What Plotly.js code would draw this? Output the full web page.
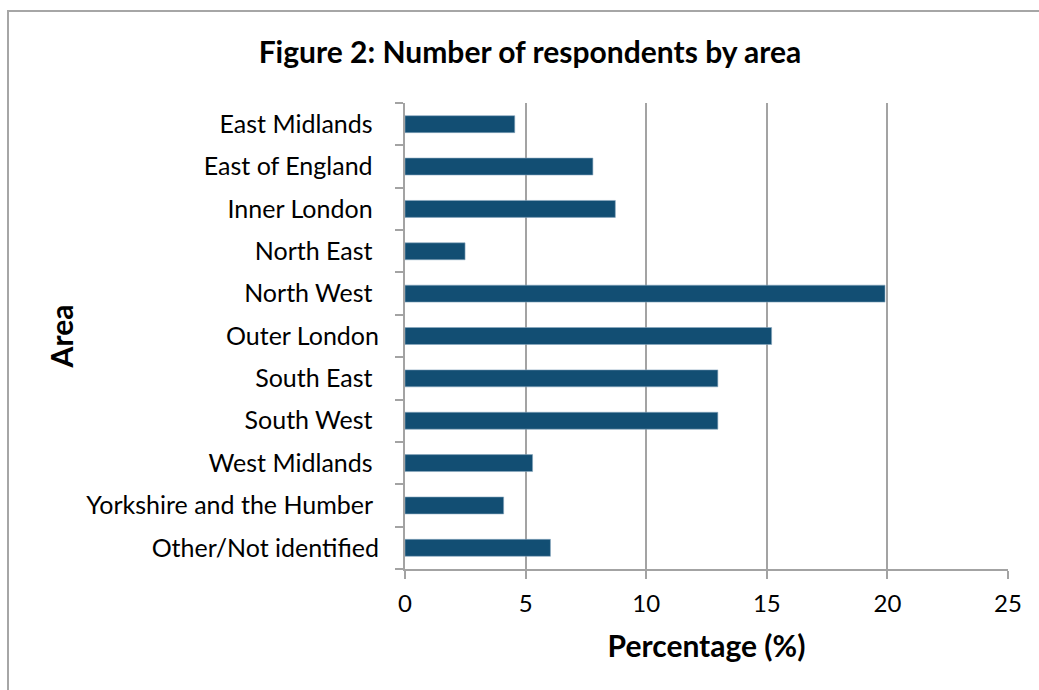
<!DOCTYPE html>
<html>
<head>
<meta charset="utf-8">
<script src="https://cdn.plot.ly/plotly-3.0.1.min.js"></script>
<style>html,body{margin:0;padding:0;background:#fff;}#chart{width:1039px;height:690px;}</style>
</head>
<body>
<div id="chart"></div>
<script>
// Data
const areas = ["East Midlands", "East of England", "Inner London", "North East", "North West",
  "Outer London", "South East", "South West", "West Midlands", "Yorkshire and the Humber", "Other/Not identified"];
const percentages = [4.55, 7.79, 8.72, 2.49, 19.9, 15.2, 12.97, 12.97, 5.29, 4.09, 6.03];
const areaLabels = ["East Midlands\u00a0", "East of England\u00a0", "Inner London\u00a0", "North East\u00a0", "North West\u00a0",
  "Outer London", "South East\u00a0", "South West\u00a0", "West Midlands\u00a0", "Yorkshire and the Humber\u00a0", "Other/Not identified"];
const xTicks = [0, 5, 10, 15, 20, 25];

const FONT = "Lato, 'Open Sans', sans-serif";
const GRID = "#a3a3a3";

const trace = {
  type: "bar",
  orientation: "h",
  y: areas,
  x: percentages,
  marker: { color: "#124E73", line: { color: "#8aa8bf", width: 0.6 } },
  hoverinfo: "x+y"
};

const L = 405, R = 1008, T = 103, B = 569, W = 1039, H = 690;
const pw = R - L, ph = B - T;

const layout = {
  width: W, height: H,
  margin: { l: L, r: W - R, t: T, b: H - B, pad: 0 },
  paper_bgcolor: "#fff",
  plot_bgcolor: "#fff",
  showlegend: false,
  bargap: 0.6,
  font: { family: FONT, color: "#000", size: 25 },
  title: {
    text: "<b>Figure 2: Number of respondents by area</b>",
    font: { family: FONT, size: 30, color: "#000" },
    xref: "container", yref: "container",
    x: 530 / W, xanchor: "center",
    y: 1 - 52 / H, yanchor: "middle"
  },
  xaxis: {
    range: [0, 25],
    tickvals: xTicks,
    ticktext: xTicks.map(String),
    showgrid: true, gridcolor: GRID, gridwidth: 2,
    zeroline: false,
    showline: true, linecolor: GRID, linewidth: 2,
    ticks: "outside", ticklen: 8, tickwidth: 2, tickcolor: GRID,
    ticklabelstandoff: 4,
    tickfont: { family: FONT, size: 24, color: "#000" },
    title: { text: "<b>Percentage (%)</b>", font: { family: FONT, size: 30, color: "#000" }, standoff: 20 },
    fixedrange: true
  },
  yaxis: {
    type: "category",
    categoryorder: "array",
    categoryarray: areas,
    tickvals: areas,
    ticktext: areaLabels,
    autorange: "reversed",
    tickson: "boundaries",
    showgrid: false,
    zeroline: false,
    showline: true, linecolor: GRID, linewidth: 2,
    ticks: "outside", ticklen: 8, tickwidth: 2, tickcolor: GRID,
    ticklabelstandoff: 19,
    tickfont: { family: FONT, size: 25, color: "#000" },
    title: { text: "<b>Area</b>", font: { family: FONT, size: 30, color: "#000" }, standoff: 4 },
    fixedrange: true
  },
  shapes: [{
    type: "rect", xref: "paper", yref: "paper",
    x0: (8 - L) / pw, x1: (W + 20 - L) / pw,
    y0: 1 - (H + 20 - T) / ph, y1: 1 + (T - 11) / ph,
    line: { color: "#a6a6a6", width: 2 },
    fillcolor: "rgba(0,0,0,0)",
    layer: "below"
  }]
};

Plotly.newPlot("chart", [trace], layout, { displayModeBar: false, staticPlot: true });
</script>
</body>
</html>
